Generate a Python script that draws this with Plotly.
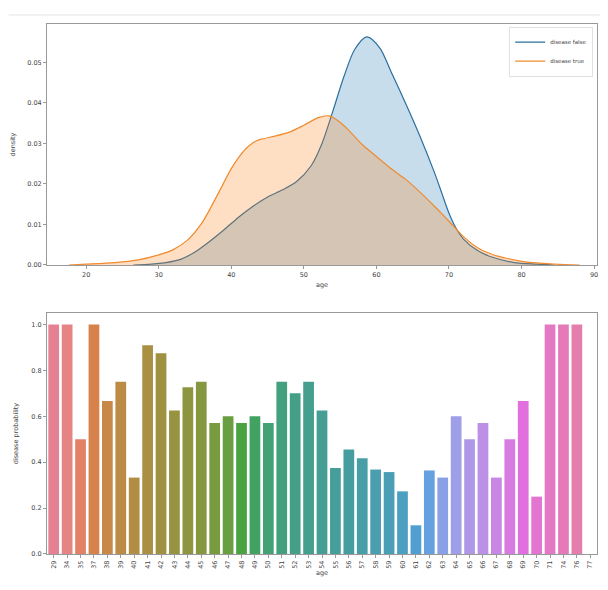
import math
import colorsys
import plotly.graph_objects as go

# ---------------- data ----------------
# KDE of age
false_age = [26.5, 29, 31, 33, 35, 37, 39, 41, 43, 45, 47, 49, 51, 52.5, 54, 55.5, 57, 58.7,
             60.5, 62, 64, 66, 68, 69, 70, 71, 72, 74, 76, 79, 82, 84.5]
false_density = [0.0, 0.0002, 0.0006, 0.0014, 0.0032, 0.0058, 0.0087, 0.0118, 0.0145, 0.0168,
                 0.0185, 0.0206, 0.0245, 0.0300, 0.0380, 0.0464, 0.0532, 0.0563, 0.0535, 0.0478,
                 0.0400, 0.0318, 0.0228, 0.0178, 0.0128, 0.0090, 0.0064, 0.0035, 0.0019, 0.0006,
                 0.0002, 0.0]

true_age = [17.6, 20, 24, 27, 30, 32, 34, 36, 38, 40, 41, 42, 43, 44, 46, 48, 50, 52, 53.5, 55,
            56, 58, 60, 62, 64, 66, 68, 70, 72, 74, 76, 78, 80, 83, 86, 88]
true_density = [0.0, 0.0002, 0.0006, 0.0012, 0.0025, 0.0038, 0.0062, 0.0105, 0.0170, 0.0238,
                0.0265, 0.0287, 0.0302, 0.0310, 0.0318, 0.0328, 0.0345, 0.0364, 0.0368, 0.0352,
                0.0336, 0.0298, 0.0268, 0.0238, 0.0212, 0.0180, 0.0145, 0.0108, 0.0070, 0.0042,
                0.0026, 0.0016, 0.0009, 0.0004, 0.0001, 0.0]

density_ticks = [0.00, 0.01, 0.02, 0.03, 0.04, 0.05]
age_ticks = [20, 30, 40, 50, 60, 70, 80, 90]

# disease probability by age
ages = ["29", "34", "35", "37", "38", "39", "40", "41", "42", "43", "44", "45", "46", "47",
        "48", "49", "50", "51", "52", "53", "54", "55", "56", "57", "58", "59", "60", "61",
        "62", "63", "64", "65", "66", "67", "68", "69", "70", "71", "74", "76", "77"]
probability = [1.0, 1.0, 0.5, 1.0, 0.667, 0.75, 0.333, 0.909, 0.875, 0.625, 0.727, 0.75,
               0.571, 0.6, 0.571, 0.6, 0.571, 0.75, 0.7, 0.75, 0.625, 0.375, 0.455, 0.417,
               0.368, 0.357, 0.273, 0.125, 0.364, 0.333, 0.6, 0.5, 0.571, 0.333, 0.5, 0.667,
               0.25, 1.0, 1.0, 1.0, 0.0]
prob_ticks = [0.0, 0.2, 0.4, 0.6, 0.8, 1.0]

# ---------------- husl palette (seaborn style) ----------------
_m = [[3.240969941904521, -1.537383177570093, -0.498610760293],
      [-0.96924363628087, 1.87596750150772, 0.041555057407175],
      [0.055630079696993, -0.20397695888897, 1.056971514242878]]
_refU, _refV = 0.19783000664283, 0.46831999493879
_kappa, _eps = 903.2962962, 0.0088564516


def _max_chroma(L, H):
    hrad = math.radians(H)
    sinH, cosH = math.sin(hrad), math.cos(hrad)
    sub1 = (L + 16) ** 3 / 1560896.0
    sub2 = sub1 if sub1 > _eps else L / _kappa
    res = float("inf")
    for m1, m2, m3 in _m:
        top = (0.99915 * m1 + 1.05122 * m2 + 1.14460 * m3) * sub2
        rb = 0.86330 * m3 - 0.17266 * m2
        lb = 0.12949 * m3 - 0.38848 * m1
        bottom = (rb * sinH + lb * cosH) * sub2
        for t in (0.0, 1.0):
            C = L * (top - 1.05122 * t) / (bottom + 0.17266 * sinH * t)
            if 0.0 < C < res:
                res = C
    return res


def _husl_to_rgb(h, s, l):
    C = _max_chroma(l, h) / 100.0 * s
    hr = math.radians(h)
    U, V = math.cos(hr) * C, math.sin(hr) * C
    t = (l + 16.0) / 116.0
    Y = t ** 3 if t ** 3 > _eps else (116.0 * t - 16.0) / _kappa
    vu = U / (13.0 * l) + _refU
    vv = V / (13.0 * l) + _refV
    X = 0.0 - (9.0 * Y * vu) / ((vu - 4.0) * vv - vu * vv)
    Z = (9.0 * Y - (15.0 * vv * Y) - (vv * X)) / (3.0 * vv)
    out = []
    for row in _m:
        c = row[0] * X + row[1] * Y + row[2] * Z
        c = 12.92 * c if c <= 0.0031308 else 1.055 * c ** (1 / 2.4) - 0.055
        out.append(min(max(c, 0.0), 1.0))
    return out


def husl_palette(n, h=0.01, s=0.9, l=0.65, sat=0.75):
    cols = []
    for i in range(n):
        hue = ((i / n + h) % 1) * 359
        r, g, b = _husl_to_rgb(hue, s * 99, l * 99)
        hh, ll, ss = colorsys.rgb_to_hls(r, g, b)
        r, g, b = colorsys.hls_to_rgb(hh, ll, ss * sat)
        cols.append("rgb(%d,%d,%d)" % (round(r * 255), round(g * 255), round(b * 255)))
    return cols


bar_colors = husl_palette(len(ages))

# ---------------- figure ----------------
BLUE = "#2a6f9e"
ORANGE = "#f08a2e"
FONT = dict(family="DejaVu Sans", size=6.5, color="#444")

fig = go.Figure()
fig.add_trace(go.Scatter(x=false_age, y=false_density, mode="lines",
                         line=dict(color=BLUE, width=1.2, shape="spline", smoothing=0.8),
                         fill="tozeroy", fillcolor="rgba(31,119,180,0.25)", showlegend=False,
                         xaxis="x", yaxis="y"))
fig.add_trace(go.Scatter(x=true_age, y=true_density, mode="lines",
                         line=dict(color=ORANGE, width=1.2, shape="spline", smoothing=0.8),
                         fill="tozeroy", fillcolor="rgba(255,127,14,0.25)", showlegend=False,
                         xaxis="x", yaxis="y"))
# legend entries (lines only)
fig.add_trace(go.Scatter(x=[None], y=[None], mode="lines", line=dict(color=BLUE, width=1.2),
                         name="disease false", xaxis="x", yaxis="y"))
fig.add_trace(go.Scatter(x=[None], y=[None], mode="lines", line=dict(color=ORANGE, width=1.2),
                         name="disease true", xaxis="x", yaxis="y"))
fig.add_trace(go.Bar(x=ages, y=probability, marker=dict(color=bar_colors, line=dict(width=0)),
                     showlegend=False, xaxis="x2", yaxis="y2"))

axis_common = dict(showline=True, linecolor="#999", linewidth=1, mirror=True, ticks="outside",
                   ticklen=3, tickcolor="#999", showgrid=False, zeroline=False, tickfont=FONT)

fig.update_layout(
    width=592, height=574,
    margin=dict(l=39, r=3, t=16, b=28),
    paper_bgcolor="white", plot_bgcolor="white",
    font=FONT,
    bargap=0.2,
    xaxis=dict(domain=[0, 1], anchor="y", range=[14.6, 90.4], tickvals=age_ticks,
               title=dict(text="age", font=FONT, standoff=4), **axis_common),
    yaxis=dict(domain=[0.5453, 1], anchor="x", range=[0, 0.0595], tickvals=density_ticks,
               tickformat=".2f", title=dict(text="density", font=FONT, standoff=10), **axis_common),
    xaxis2=dict(domain=[0, 1], anchor="y2", range=[-0.5, len(ages) - 0.5], tickangle=-90,
                title=dict(text="age", font=FONT, standoff=1), type="category", **axis_common),
    yaxis2=dict(domain=[0, 0.4547], anchor="x2", range=[0, 1.05], tickvals=prob_ticks,
                tickformat=".1f", title=dict(text="disease probability", font=FONT, standoff=12), **axis_common),
    legend=dict(x=0.993, y=0.995, xanchor="right", yanchor="top", bgcolor="rgba(255,255,255,0.8)",
                bordercolor="#e0e0e0", borderwidth=1, font=dict(family="DejaVu Sans", size=5.5, color="#444"),
                tracegroupgap=0, itemwidth=30),
    shapes=[dict(type="line", xref="paper", yref="paper", x0=-0.07, x1=1.02, y0=1.017, y1=1.017,
                 line=dict(color="#e4e4e4", width=1))],
)

fig.write_html("out.html")
